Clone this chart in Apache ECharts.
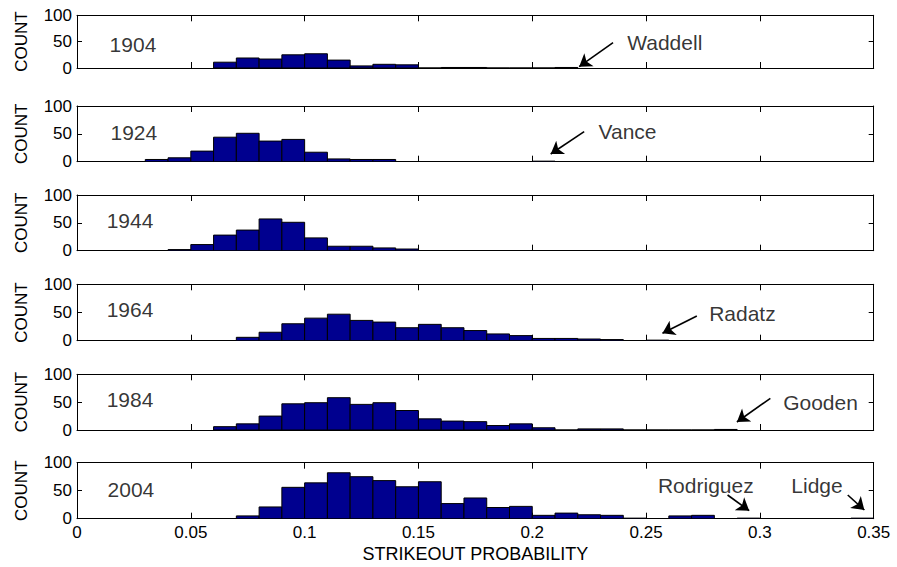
<!DOCTYPE html>
<html>
<head>
<meta charset="utf-8">
<script src="https://cdn.jsdelivr.net/npm/echarts@6/dist/echarts.min.js"></script>
<style>
html,body{margin:0;padding:0;background:#fff;}
#c{width:897px;height:567px;}
</style>
</head>
<body>
<div id="c"></div>
<script>
// ---------- data ----------
const years = ['1904', '1924', '1944', '1964', '1984', '2004'];
const binWidth = 0.01; // bin k covers [k*0.01, (k+1)*0.01]
const xTicks = [0, 0.05, 0.1, 0.15, 0.2, 0.25, 0.3, 0.35];
const yTicks = [0, 50, 100];

const counts1904 = [0,0,0,0,0,0,11,19,17,25,27,15,4,7,6,0,1,1,0,0,0,1,0,0,0,0,0,0,0,0,0,0,0,0,0];
const counts1924 = [0,0,0,4,7,19,44,51,37,40,17,5,4,4,0,0,0,0,0,0,1,0,0,0,0,0,0,0,0,0,0,0,0,0,0];
const counts1944 = [0,0,0,0,2,11,28,37,57,51,23,8,8,5,3,0,0,0,0,0,0,0,0,0,0,0,0,0,0,0,0,0,0,0,0];
const counts1964 = [0,0,0,0,0,0,0,6,15,30,40,47,36,33,23,29,23,18,12,9,4,4,3,2,0,1,0,0,0,0,0,0,0,0,0];
const counts1984 = [0,0,0,0,0,0,6,11,25,47,49,58,46,49,35,20,16,15,8,11,4,0,2,2,0,0,0,0,1,0,0,0,0,0,0];
const counts2004 = [0,0,0,0,0,0,0,5,21,56,64,82,75,68,57,66,27,37,20,22,6,10,7,6,1,0,5,6,0,1,0,0,0,0,1];
const allCounts = [counts1904, counts1924, counts1944, counts1964, counts1984, counts2004];

// annotation anchors in data units (x = probability, y = count)
const yearLabelAt = [[0.0141,45],[0.0145,53],[0.0128,55],[0.0128,56],[0.0128,54],[0.0132,53]];
const pointers = [
  {panel:0, name:'Waddell',   text:[0.2415,48], tail:[0.2355,48],   head:[0.2206,2.5]},
  {panel:1, name:'Vance',     text:[0.2289,54], tail:[0.2228,54],   head:[0.2081,13.8]},
  {panel:3, name:'Radatz',    text:[0.2775,48.6], tail:[0.2723,43.8], head:[0.2572,13.1]},
  {panel:4, name:'Gooden',    text:[0.3100,49], tail:[0.3046,56.9], head:[0.2899,14.4]},
  {panel:5, name:'Rodriguez', text:[0.2550,60], tail:[0.2858,42.3], head:[0.2953,14.3]},
  {panel:5, name:'Lidge',     text:[0.3136,60], tail:[0.3386,42.3], head:[0.3459,15.5]}
];

// ---------- layout / style ----------
const panelTops = [15.3, 106, 195, 284.3, 374.3, 462.7];
const panelHeights = [52.7, 55.7, 55.7, 56.4, 55.7, 56];
const FONT = '"Liberation Sans", Arial, Helvetica, sans-serif';
const BAR = '#00008F';

const chart = echarts.init(document.getElementById('c'), null, {renderer:'svg'});

const grids = [], xAxes = [], yAxes = [], series = [];
years.forEach((yr, i) => {
  const last = i === years.length - 1;
  grids.push({left:77, top:panelTops[i], width:796.7, height:panelHeights[i], containLabel:false});
  const xBase = {
    type:'value', min:xTicks[0], max:xTicks[xTicks.length-1], interval:0.05, gridIndex:i,
    axisLine:{show:true, onZero:false, lineStyle:{color:'#000', width:1}},
    axisTick:{show:true, inside:true, length:6, lineStyle:{color:'#000'}},
    splitLine:{show:false}
  };
  xAxes.push(Object.assign({}, xBase, {
    position:'bottom',
    axisLabel:{show:last, color:'#000', fontSize:17, fontFamily:FONT, margin:5,
      formatter: v => String(+v.toFixed(2))},
    name: last ? 'STRIKEOUT PROBABILITY' : '',
    nameLocation:'middle', nameGap:26,
    nameTextStyle:{color:'#000', fontSize:18, fontFamily:FONT}
  }));
  xAxes.push(Object.assign({}, xBase, {position:'top', axisLabel:{show:false}}));
  const yBase = {
    type:'value', min:yTicks[0], max:yTicks[yTicks.length-1], interval:50, gridIndex:i,
    axisLine:{show:true, onZero:false, lineStyle:{color:'#000', width:1}},
    axisTick:{show:true, inside:true, length:5, lineStyle:{color:'#000'}},
    splitLine:{show:false}
  };
  yAxes.push(Object.assign({}, yBase, {
    position:'left',
    axisLabel:{show:true, color:'#000', fontSize:17, fontFamily:FONT, margin:5},
    name:'COUNT', nameLocation:'middle', nameGap:47, nameRotate:90,
    nameTextStyle:{color:'#000', fontSize:17, fontFamily:FONT}
  }));
  yAxes.push(Object.assign({}, yBase, {position:'right', axisLabel:{show:false}}));

  const counts = allCounts[i];
  let first = counts.findIndex(c => c > 0);
  let lastNz = counts.length - 1 - counts.slice().reverse().findIndex(c => c > 0);
  const binData = [];
  for (let k = first; k <= lastNz; k++) binData.push([k * binWidth, counts[k]]);

  series.push({
    type:'custom', xAxisIndex:2*i, yAxisIndex:2*i, clip:true, silent:true,
    data: binData,
    renderItem: (params, api) => {
      const x0 = api.value(0), c = api.value(1);
      const pTop = api.coord([x0, c]);
      const pBot = api.coord([x0 + binWidth, 0]);
      return {type:'rect',
        shape:{x:pTop[0], y:pTop[1], width:pBot[0]-pTop[0], height:pBot[1]-pTop[1]},
        style:{fill:BAR, stroke:'#000', lineWidth:1}};
    }
  });

  const labels = [{name:yr, value:yearLabelAt[i]}];
  const arrows = [];
  pointers.filter(p => p.panel === i).forEach(p => {
    labels.push({name:p.name, value:p.text});
    arrows.push({coords:[p.tail, p.head]});
  });
  if (arrows.length) {
    series.push({
      type:'lines', coordinateSystem:'cartesian2d', xAxisIndex:2*i, yAxisIndex:2*i,
      silent:true, data:arrows, symbol:['none','arrow'], symbolSize:12,
      lineStyle:{color:'#000', width:1.6, opacity:1}, itemStyle:{color:'#000'}
    });
  }
  series.push({
    type:'scatter', xAxisIndex:2*i, yAxisIndex:2*i, silent:true,
    symbolSize:1, itemStyle:{color:'rgba(0,0,0,0)'},
    data:labels,
    label:{show:true, position:'right', distance:0, formatter:'{b}',
      color:'#000', fontSize:21, fontFamily:FONT}
  });
});

chart.setOption({
  animation:false,
  backgroundColor:'#fff',
  grid:grids, xAxis:xAxes, yAxis:yAxes, series:series
});
</script>
</body>
</html>
